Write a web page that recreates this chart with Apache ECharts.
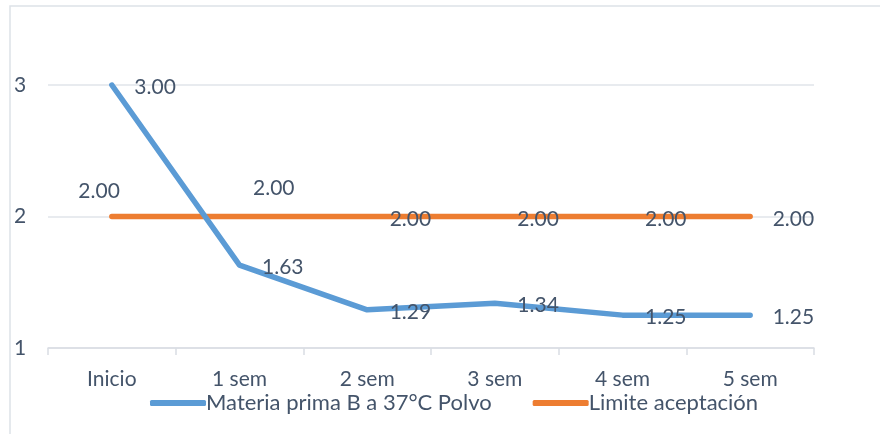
<!DOCTYPE html>
<html>
<head>
<meta charset="utf-8">
<script src="https://cdn.jsdelivr.net/npm/echarts@6/dist/echarts.min.js"></script>
<style>
  html, body { margin: 0; padding: 0; background: #fff; }
  #chart { width: 880px; height: 434px; }
</style>
</head>
<body>
<div id="chart"></div>
<script>
// Stability of raw material B at 37°C (powder) against the acceptance limit
const categories = ['Inicio', '1 sem', '2 sem', '3 sem', '4 sem', '5 sem'];
const materiaValues = [3.00, 1.63, 1.29, 1.34, 1.25, 1.25];
const limiteValues = [2.00, 2.00, 2.00, 2.00, 2.00, 2.00];
const yTicks = [1, 2, 3];

const seriesNames = ['Materia prima B a 37°C Polvo', 'Limite aceptación'];
const textColor = '#44546a';
const fontFamily = 'Lato, "Open Sans", sans-serif';

// per-point label offsets for the limit line (first two labels sit above the line)
const limiteOffsets = [[-56, -25], [-9, -28], [0, 3], [0, 3], [0, 3], [0, 3]];

const chart = echarts.init(document.getElementById('chart'), null, { renderer: 'canvas' });

chart.setOption({
  backgroundColor: '#ffffff',
  animation: false,
  textStyle: { fontFamily: fontFamily },
  graphic: [{
    type: 'rect',
    shape: { x: 10, y: 6, width: 900, height: 500 },
    style: { fill: 'none', stroke: '#dde2e8', lineWidth: 1.5 },
    silent: true
  }],
  grid: { left: 48, right: 66, top: 85, bottom: 86, containLabel: false },
  legend: {
    left: 145,
    top: 387,
    itemWidth: 56,
    itemHeight: 6,
    itemGap: 41,
    icon: 'roundRect',
    textStyle: { color: textColor, fontSize: 22, fontFamily: fontFamily, padding: [0, 0, 0, -5] },
    data: seriesNames
  },
  xAxis: {
    type: 'category',
    data: categories,
    boundaryGap: true,
    axisLine: { show: true, lineStyle: { color: '#d9dde3', width: 1.5 } },
    axisTick: { show: true, length: 7, alignWithLabel: false, lineStyle: { color: '#d9dde3', width: 1.5 } },
    axisLabel: { color: textColor, fontSize: 21, margin: 21, fontFamily: fontFamily }
  },
  yAxis: {
    type: 'value',
    min: yTicks[0],
    max: yTicks[yTicks.length - 1],
    interval: 1,
    axisLine: { show: false },
    axisTick: { show: false },
    axisLabel: {
      color: textColor, fontSize: 21, fontFamily: fontFamily,
      align: 'left', margin: 34
    },
    splitLine: { show: true, lineStyle: { color: '#e1e5ea', width: 1.5 } }
  },
  series: [
    {
      name: seriesNames[0],
      type: 'line',
      data: materiaValues,
      color: '#5b9bd5',
      symbol: 'circle',
      symbolSize: 1,
      lineStyle: { width: 5.5, color: '#5b9bd5', cap: 'round', join: 'round' },
      itemStyle: { color: '#5b9bd5' },
      z: 3,
      label: {
        show: true,
        position: 'right',
        distance: 22,
        offset: [0, 2],
        color: textColor,
        fontSize: 21,
        fontFamily: fontFamily,
        formatter: p => p.value.toFixed(2)
      }
    },
    {
      name: seriesNames[1],
      type: 'line',
      data: limiteValues.map((v, i) => ({
        value: v,
        label: { offset: limiteOffsets[i] }
      })),
      color: '#ed7d31',
      symbol: 'circle',
      symbolSize: 1,
      lineStyle: { width: 5.5, color: '#ed7d31', cap: 'round' },
      itemStyle: { color: '#ed7d31' },
      z: 2,
      label: {
        show: true,
        position: 'right',
        distance: 22,
        color: textColor,
        fontSize: 21,
        fontFamily: fontFamily,
        formatter: p => p.value.toFixed(2)
      }
    }
  ]
});
</script>
</body>
</html>
